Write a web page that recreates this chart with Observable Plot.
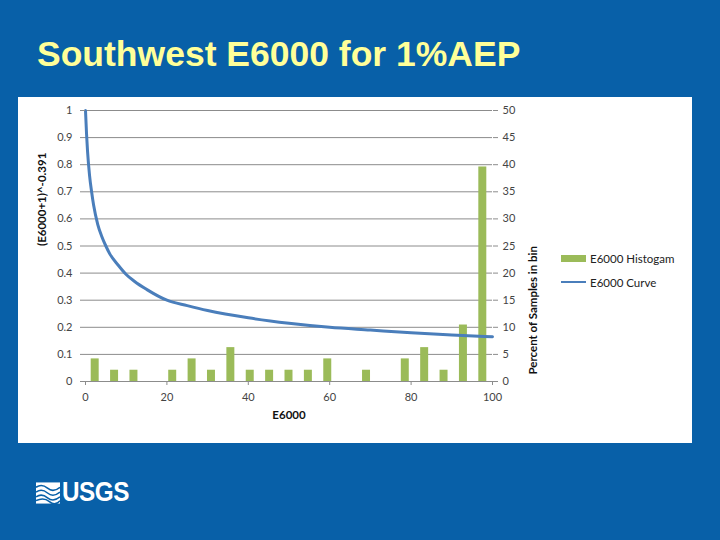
<!DOCTYPE html>
<html>
<head>
<meta charset="utf-8">
<script src="https://cdn.jsdelivr.net/npm/d3@7"></script>
<script src="https://cdn.jsdelivr.net/npm/@observablehq/plot@0.6"></script>
<style>
  html, body { margin: 0; padding: 0; }
  #page { position: relative; width: 720px; height: 540px; background: #0860A8; overflow: hidden; font-family: "Liberation Sans", Arial, sans-serif; }
  #title { position: absolute; left: 37px; top: 34px; color: #FFFF99; font-weight: bold; font-size: 35.5px; white-space: nowrap; }
  #chart { position: absolute; left: 18px; top: 97px; }
  #legend { position: absolute; left: 561px; top: 246px; font-family: Lato, "Open Sans", sans-serif; font-size: 11.5px; color: #222; }
  .lg { display: flex; align-items: center; height: 24px; }
  .sw { width: 25px; margin-right: 4px; }
  #logo { position: absolute; left: 36px; top: 479px; display: flex; align-items: center; color: white; }
  #logo span { font-family: "Liberation Sans Narrow", "Liberation Sans", Arial, sans-serif; font-weight: bold; font-size: 27px; letter-spacing: -0.5px; transform: scaleX(0.9); transform-origin: left; line-height: 27px; }
</style>
</head>
<body>
<div id="page">
  <div id="title">Southwest E6000 for 1%AEP</div>
  <div id="chart"></div>
  <div id="legend">
    <div class="lg"><div class="sw" style="height:7px;background:#9BBB59"></div>E6000 Histogam</div>
    <div class="lg"><div class="sw" style="height:2px;background:#4A7EBB"></div>E6000 Curve</div>
  </div>
  <div id="logo">
    <svg width="24" height="22" viewBox="0 0 25 22">
      <rect x="0" y="0" width="25" height="22" fill="white"/>
      <path d="M0 5 Q6 1 12 6 T25 5" stroke="#0860A8" stroke-width="1.6" fill="none"/>
      <path d="M0 10 Q6 6 12 11 T25 10" stroke="#0860A8" stroke-width="1.6" fill="none"/>
      <path d="M0 15 Q6 11 12 16 T25 15" stroke="#0860A8" stroke-width="1.6" fill="none"/>
      <path d="M0 19 Q8 15 14 20 T25 19" stroke="#0860A8" stroke-width="1.6" fill="none"/>
    </svg>
    <span style="margin-left:2px">USGS</span>
  </div>
</div>
<script>
// Histogram: percent of samples in each of 21 equal bins over 0..100
const histPercent = [4.17, 2.08, 2.08, 0, 2.08, 4.17, 2.08, 6.25, 2.08, 2.08, 2.08, 2.08, 4.17, 0, 2.08, 0, 4.17, 6.25, 2.08, 10.42, 39.58];
// Curve (E6000+1)^-0.391
const curveX = [0, 0.25, 0.5, 1, 1.5, 2, 3, 4, 5, 6, 8, 10, 12, 15, 20, 25, 30, 40, 50, 60, 70, 80, 90, 100];
const curveY = [1.0, 0.915, 0.85, 0.76, 0.70, 0.65, 0.58, 0.535, 0.50, 0.47, 0.43, 0.395, 0.37, 0.34, 0.30, 0.28, 0.262, 0.235, 0.215, 0.20, 0.19, 0.18, 0.172, 0.165];
const leftTicks = [0, 0.1, 0.2, 0.3, 0.4, 0.5, 0.6, 0.7, 0.8, 0.9, 1];
const rightMax = 50;
const xTicks = [0, 20, 40, 60, 80, 100];

const nBins = histPercent.length;
const hist = histPercent.map((p, i) => ({i, p}));
const curve = curveX.map((x, i) => ({x, y: curveY[i]}));

const grid = "#8C8C8C";
const chart = Plot.plot({
  width: 674,
  height: 346,
  marginLeft: 67,
  marginRight: 200,
  marginTop: 13,
  marginBottom: 62,
  style: {background: "white", fontFamily: "Lato, 'Open Sans', sans-serif", fontSize: "11px", color: "#444"},
  x: {domain: [0, 100]},
  y: {domain: [0, 1]},
  marks: [
    Plot.gridY(leftTicks, {stroke: grid, strokeOpacity: 1}),
    Plot.rectY(hist, {
      x1: d => d.i * 100 / nBins,
      x2: d => (d.i + 1) * 100 / nBins,
      y: d => d.p / rightMax,
      fill: "#9BBB59",
      insetLeft: 5.7,
      insetRight: 5.7
    }),
    Plot.line(curve, {x: "x", y: "y", stroke: "#4A7EBB", strokeWidth: 3, curve: "monotone-x"}),
    Plot.axisY({anchor: "left", ticks: leftTicks, tickSize: 5, tickPadding: 8, stroke: grid, tickFormat: d => String(+d.toFixed(1)), label: null}),
    Plot.axisY({anchor: "right", ticks: leftTicks, tickSize: 5, tickPadding: 5, stroke: grid, tickFormat: d => String(Math.round(d * rightMax)), label: null}),
    Plot.axisX({ticks: xTicks, tickSize: 4, tickPadding: 8, stroke: grid, tickFormat: d => String(d), label: null}),
    Plot.ruleY([0], {stroke: grid}),
    Plot.text(["(E6000+1)^-0.391"], {frameAnchor: "left", dx: -43, rotate: -90, fontWeight: "bold", fill: "#111", fontSize: 11.5}),
    Plot.text(["Percent of Samples in bin"], {frameAnchor: "right", dx: 41, rotate: -90, fontWeight: "bold", fill: "#111", fontSize: 11.5}),
    Plot.text(["E6000"], {frameAnchor: "bottom", dy: 37, fontWeight: "bold", fill: "#111", fontSize: 11.5})
  ]
});
document.getElementById("chart").appendChild(chart);
</script>
</body>
</html>
